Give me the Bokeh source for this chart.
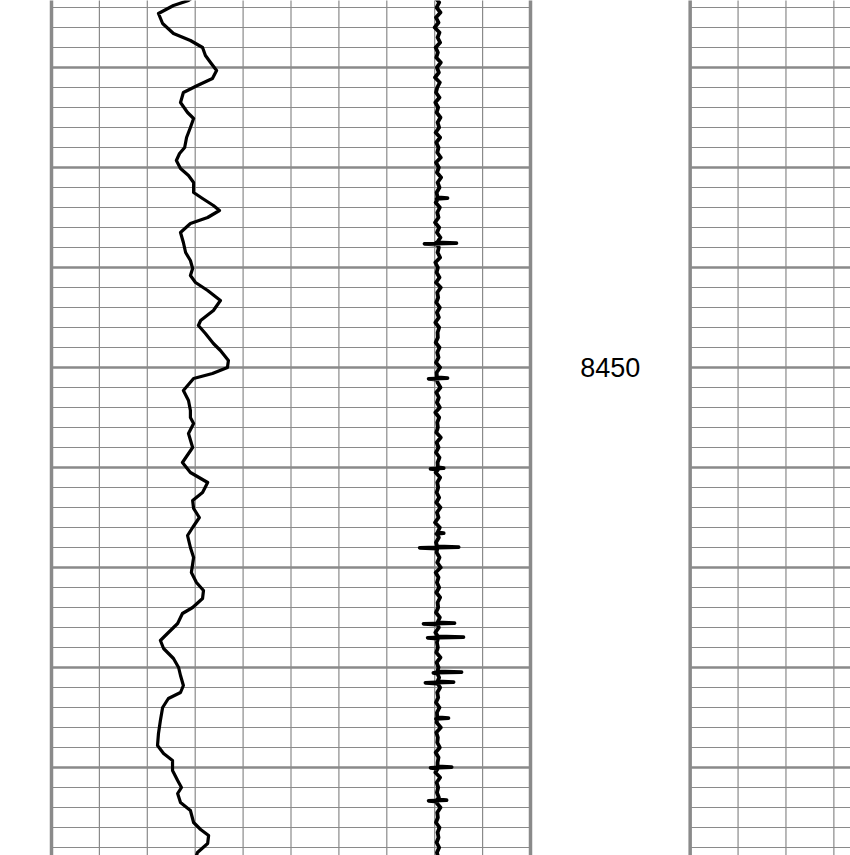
import numpy as np
from bokeh.plotting import figure
from bokeh.models import Range1d
from bokeh.core.properties import value
from bokeh.embed import file_html
from bokeh.resources import INLINE

# ---------------- data ----------------
# Curve 1 (smooth curve, left track, scale 0-150)
gr_depth = [8412.8, 8413.3, 8413.8, 8414.6, 8415.6, 8416.6, 8417.3, 8418.0, 8418.8, 8419.5,
            8420.3, 8421.1, 8421.8, 8422.5, 8423.5, 8424.5, 8425.1, 8426.0, 8427.0, 8428.0,
            8428.6, 8429.3, 8430.1, 8430.8, 8431.5, 8432.5, 8433.1, 8433.8, 8434.3, 8435.0,
            8435.6, 8436.5, 8437.5, 8438.5, 8439.3, 8440.1, 8440.8, 8441.5, 8442.3, 8443.3,
            8444.3, 8445.3, 8445.8, 8446.6, 8447.6, 8448.3, 8449.3, 8450.0, 8450.6, 8451.1,
            8452.3, 8453.3, 8454.3, 8455.0, 8455.6, 8456.6, 8458.0, 8459.5, 8460.5, 8461.5,
            8462.5, 8463.3, 8464.1, 8465.0, 8466.0, 8466.8, 8468.0, 8469.0, 8470.5, 8471.5,
            8472.3, 8473.1, 8474.0, 8474.6, 8475.6, 8476.6, 8477.3, 8478.1, 8479.1, 8480.0,
            8480.8, 8481.8, 8482.5, 8483.1, 8484.0, 8485.3, 8486.6, 8487.8, 8488.6, 8489.3,
            8490.3, 8491.3, 8492.0, 8492.6, 8493.5, 8494.3, 8495.5, 8496.2, 8496.8, 8497.6,
            8498.5, 8499.1]
gr_value = [45.1, 42.9, 38.2, 33.5, 34.8, 38.2, 43.5, 47.3, 48.2, 49.8,
            51.7, 50.4, 45.7, 41.3, 40.4, 42.6, 44.5, 43.5, 42.3, 41.7,
            40.1, 39.1, 40.4, 42.9, 44.5, 44.5, 47.3, 50.7, 52.6, 48.9,
            43.5, 40.4, 41.3, 42.0, 43.5, 44.2, 43.5, 45.1, 48.9, 52.9,
            50.7, 46.7, 46.0, 48.2, 50.7, 52.9, 55.4, 55.1, 50.4, 44.5,
            41.3, 42.9, 43.5, 43.5, 44.5, 42.9, 44.2, 41.0, 43.5, 48.9,
            47.3, 44.2, 44.5, 46.3, 44.2, 42.6, 43.5, 44.5, 43.8, 45.4,
            47.6, 47.3, 44.2, 41.0, 39.5, 36.3, 34.1, 35.1, 38.2, 39.8,
            40.4, 41.3, 40.4, 36.6, 34.8, 34.1, 33.5, 33.2, 35.1, 37.9,
            37.9, 39.5, 40.7, 39.5, 40.4, 43.5, 44.5, 46.7, 49.2, 48.9,
            45.7, 45.1]

# Curve 2 (noisy curve, same scale), sampled every 0.5 ft from 8413.0
c2_top = 8413.0
c2_step = 0.5
c2_value = [120.2, 121.4, 120.6, 121.8, 120.4, 121.2, 120.0, 121.5, 120.9, 121.7,
            120.3, 121.0, 120.5, 121.9, 120.7, 121.3, 120.1, 121.6, 120.8, 120.4,
            121.5, 120.2, 121.1, 120.6, 121.8, 120.9, 121.4, 120.3, 121.7, 120.5,
            121.2, 120.8, 121.9, 120.4, 121.3, 120.7, 122.0, 120.9, 121.5, 120.6,
            121.1, 120.3, 121.6, 120.8, 121.2, 120.1, 121.4, 120.7, 121.8, 120.5,
            121.3, 120.9, 121.7, 120.2, 121.0, 120.6, 121.5, 120.4, 121.9, 120.8,
            121.1, 120.5, 121.6, 120.7, 121.3, 120.2, 121.4, 120.9, 121.0, 120.3,
            121.5, 120.8, 121.2, 120.4, 121.7, 120.6, 121.1, 120.9, 121.8, 120.5,
            121.3, 120.7, 121.6, 120.2, 121.4, 120.8, 121.0, 120.5, 121.9, 120.6,
            121.2, 120.4, 121.5, 120.9, 121.3, 120.3, 121.7, 120.8, 121.1, 120.6,
            121.4, 120.5, 121.8, 120.7, 121.2, 120.1, 121.6, 120.9, 121.3, 120.4,
            121.0, 120.6, 121.5, 120.8, 121.9, 120.3, 121.2, 120.7, 121.4, 120.5,
            121.7, 120.9, 121.1, 120.4, 121.6, 120.8, 121.3, 120.2, 121.5, 120.7,
            121.0, 120.5, 121.8, 120.6, 121.2, 120.9, 121.4, 120.3, 121.7, 120.8,
            121.1, 120.4, 121.5, 120.7, 121.3, 120.6, 121.9, 120.5, 121.0, 120.8,
            121.6, 120.3, 121.2, 120.9, 121.4, 120.2, 121.7, 120.6, 121.1, 120.7,
            121.3, 120.5, 121.8, 120.8, 121.0, 120.4, 121.5, 120.9, 121.2, 120.6,
            121.4, 120.7, 121.1]
spike_depth = [8433.1, 8437.6, 8451.1, 8460.1, 8466.6, 8468.0, 8475.6, 8477.0,
               8480.5, 8481.5, 8485.1, 8490.0, 8493.3]
spike_right = [124.0, 126.8, 124.0, 122.8, 122.8, 127.5, 126.2, 129.0,
               128.4, 125.9, 124.3, 125.3, 123.7]
spike_left = [120.6, 116.8, 118.1, 118.7, 120.5, 115.3, 116.5, 117.8,
              119.6, 117.1, 120.4, 118.7, 118.1]
spike_center = [120.9, 120.8, 120.7, 121.0, 120.9, 120.8, 120.9, 121.0,
                120.8, 120.9, 120.8, 120.9, 120.8]

depth_labels = [8450]

# ---------------- layout ----------------
W, H = 850, 855
PX_PER_UNIT = 479.0 / 150.0      # track width 150 units
PX_PER_FT = 10.0
x0 = (0 - 51) / PX_PER_UNIT
x1 = x0 + W / PX_PER_UNIT
d_top = 8450.0 - 367 / PX_PER_FT
d_bot = d_top + H / PX_PER_FT

p = figure(width=W, height=H, output_backend="svg", toolbar_location=None,
           x_range=Range1d(x0, x1), y_range=Range1d(d_bot, d_top),
           min_border=0, min_border_left=0, min_border_right=0,
           min_border_top=0, min_border_bottom=0)
p.xaxis.visible = False
p.yaxis.visible = False
p.grid.visible = False
p.outline_line_color = None
p.background_fill_color = "white"
p.border_fill_color = "white"

GRID = "#8a8a8a"
tracks = [(0.0, 150.0), (200.0, 350.0)]
g_lo = int(np.floor(d_top / 2.0) * 2) - 2
g_hi = int(np.ceil(d_bot / 2.0) * 2) + 2

minor_d = [d for d in range(g_lo, g_hi + 1, 2) if d % 10 != 0]
major_d = [d for d in range(g_lo, g_hi + 1, 2) if d % 10 == 0]

for (a, b) in tracks:
    p.segment(x0=[a] * len(minor_d), x1=[b] * len(minor_d), y0=minor_d, y1=minor_d,
              line_color=GRID, line_width=1.2)
    xs = [a + 15 * i for i in range(1, 10)]
    p.segment(x0=xs, x1=xs, y0=[d_top - 5] * len(xs), y1=[d_bot + 5] * len(xs),
              line_color=GRID, line_width=1.2)
    p.segment(x0=[a] * len(major_d), x1=[b] * len(major_d), y0=major_d, y1=major_d,
              line_color=GRID, line_width=2.4)
    p.segment(x0=[a, b], x1=[a, b], y0=[d_top - 5] * 2, y1=[d_bot + 5] * 2,
              line_color=GRID, line_width=3.5)

# curve 1
p.line(gr_value, gr_depth, line_color="black", line_width=3.2, line_join="round")

# curve 2: base samples plus spikes
c2_depth = [c2_top + c2_step * i for i in range(len(c2_value))]
pts = list(zip(c2_depth, c2_value))
for d, r, l, c in zip(spike_depth, spike_right, spike_left, spike_center):
    pts.append((d - 0.12, c))
    pts.append((d - 0.03, r))
    pts.append((d + 0.03, l))
    pts.append((d + 0.12, c))
pts.sort()
p.line([v for _, v in pts], [d for d, _ in pts], line_color="black",
       line_width=3.8, line_join="round")

# depth labels
p.text(x=[175.0] * len(depth_labels), y=depth_labels, text=[str(d) for d in depth_labels],
       text_align="center", text_baseline="middle", text_color="black",
       text_font=value("Liberation Sans"), text_font_size="27px")

open("out.html", "w").write(file_html(p, INLINE))
